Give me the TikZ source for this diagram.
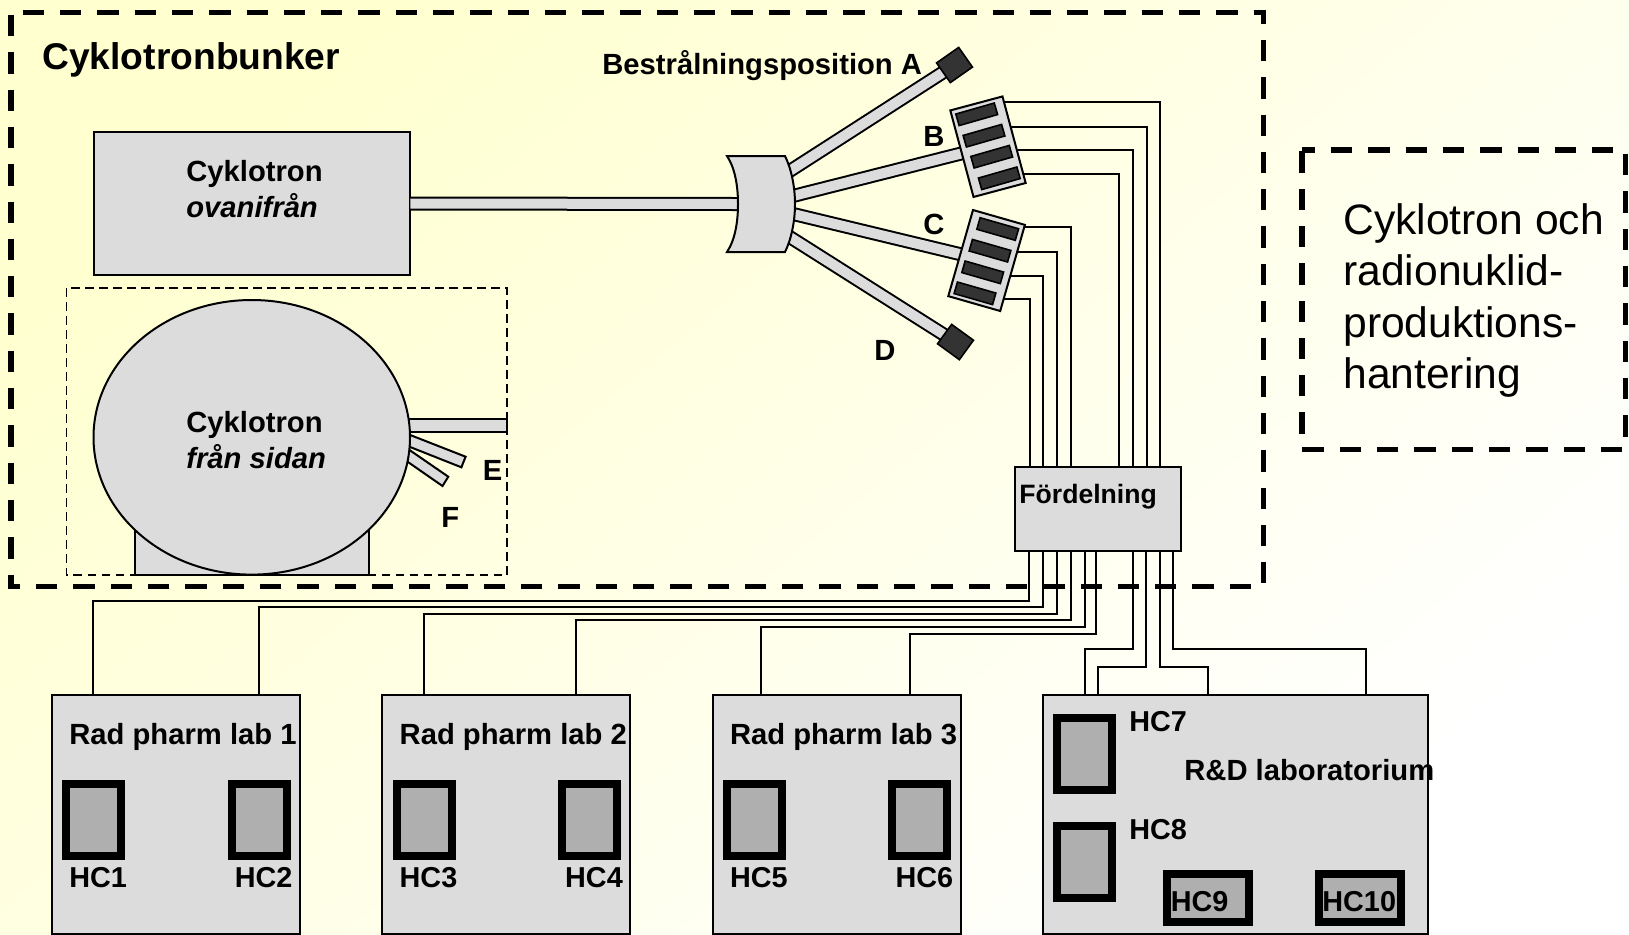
\documentclass[tikz,border=0pt]{standalone}
\usepackage{fontspec}
\setmainfont{Liberation Sans}
\usetikzlibrary{calc,shapes.geometric}

\definecolor{partgray}{HTML}{DCDCDC}
\definecolor{cellgray}{HTML}{AFAFAF}
\definecolor{darkpart}{HTML}{333333}
\definecolor{paleyellow}{HTML}{FFFFD0}

\begin{document}
\begin{tikzpicture}[x=0.5pt,y=-0.5pt]
    \tikzset{block/.style= {draw, rectangle, fill=partgray
    , line width=1pt
    , inner sep=0pt
    , outer sep=0pt
      }
    , labbox/.style= {block
    , minimum width=124pt
    , minimum height=119.5pt
    , node distance=165.15pt
      }
    , hotcell/.style= {draw, rectangle, fill=cellgray
    , line width=4pt
    , inner sep=0pt
    , minimum width=27.5pt
    , minimum height=36pt
      }
    , widecell/.style= {hotcell
    , minimum width=41pt
    , minimum height=24pt
      }
    , slot/.style= {draw, rectangle, fill=darkpart
    , line width=0.8pt
    , inner sep=0pt
    , minimum width=20pt
    , minimum height=6pt
      }
    , target/.style= {rectangle, fill=darkpart, draw
    , line width=0.8pt
    , inner sep=0pt
    , minimum width=13.5pt
    , minimum height=12pt
      }
    , tag/.style= {anchor=base west
    , inner sep=0pt
    , font=\bfseries\fontsize{14.6}{17.5}\selectfont
      }
    , celltag/.style= {tag
    , font=\bfseries\fontsize{14.4}{16}\selectfont
      }
    , beam/.style= {draw, line width=1pt, double=partgray, double distance=5pt}
    , part/.style= {draw, fill=partgray, line width=1pt}
    , wire/.style= {draw, line width=1pt}
    , bunker/.style= {draw, line width=2.65pt, dash pattern=on 10.65pt off 8pt}
    }

\shade[top color=paleyellow, bottom color=white, shading angle=40] (0,0) rectangle (1629,934);
\useasboundingbox (0,0) rectangle (1629,934);

\draw[bunker] (22.7,12.7) -- (1263.7,12.7) -- (1263.7,586.7) -- (11,586.7) -- (11,12.7);
\draw[bunker, dash phase=4.15pt] (1302,150) -- (1625.3,150) -- (1625.3,449.3) -- (1302,449.3) -- cycle;
\draw[dash pattern=on 4.3pt off 2.7pt, line width=0.7pt] (66.5,288) rectangle (507,575);

\node [tag, font=\bfseries\fontsize{18.6}{22}\selectfont] (bunkertext) at (42,69) {Cyklotronbunker};
\node [anchor=west, inner sep=0pt, align=left, font=\fontsize{21.3}{25.6}\selectfont] (roomtext) at (1343,300.5)
  {Cyklotron och\\radionuklid-\\produktions-\\hantering};

\coordinate (hubA) at (785,174);
\coordinate (hubB) at (785,198);
\coordinate (hubC) at (785,212);
\coordinate (hubD) at (785,234);
\coordinate (splitter) at (740,204);
\coordinate (endA) at (954.5,65);
\coordinate (endB) at (988,146.7);
\coordinate (endC) at (986.6,260.5);
\coordinate (endD) at (955.5,342);

\node [block, minimum width=158.3pt, minimum height=71.5pt] (topview) at (252,203.5) {};
\node [tag, align=left, anchor=west] (toptext) at (186,189) {Cyklotron\\[0.5pt]\itshape ovanifrån};

\draw[beam] (topview.east) -- (splitter);
\draw[beam] (hubA) -- (endA);
\draw[beam] (hubB) -- (endB);
\draw[beam] (hubC) -- (endC);
\draw[beam] (hubD) -- (endD);

\draw[part] (727,156) -- (785,156) .. controls (791,168) and (795,186) .. (795,204)
  .. controls (795,222) and (791,240) .. (785,252) -- (727,252)
  .. controls (735,240) and (738,222) .. (738,204) .. controls (738,186) and (735,168) .. (727,156) -- cycle;

\node [target, rotate=35] (posA) at (endA) {};
\node [target, rotate=-36] (posD) at (endD) {};
\node [block, rotate=15, minimum width=27pt, minimum height=44.8pt] (blockB) at (endB) {};
\node [block, rotate=-16, minimum width=27pt, minimum height=44.8pt] (blockC) at (endC) {};

\node [slot, rotate=16] (slotB1) at (976.7,114.3) {};
\node [slot, rotate=16] (slotB2) at (984,135.7) {};
\node [slot, rotate=16] (slotB3) at (991.7,156.7) {};
\node [slot, rotate=16] (slotB4) at (999.3,178.3) {};
\node [slot, rotate=-16] (slotC1) at (997.7,229) {};
\node [slot, rotate=-16] (slotC2) at (990,250.7) {};
\node [slot, rotate=-16] (slotC3) at (982.7,272.3) {};
\node [slot, rotate=-16] (slotC4) at (975,293.3) {};

\node [tag] (postextA) at (602,74) {Bestrålningsposition A};
\node [tag] (postextB) at (923,146) {B};
\node [tag] (postextC) at (923,234) {C};
\node [tag] (postextD) at (874,360.5) {D};

\node [block, minimum width=82.7pt, minimum height=41.85pt] (fordelning) at (1098,509.2) {};
\node [tag, font=\bfseries\fontsize{13.3}{16}\selectfont] (fordelningtext) at (1019,503.5) {Fördelning};

\coordinate (inC4) at (1029.7,467.3);
\coordinate (inC3) at (1043.3,467.3);
\coordinate (inC2) at (1057.3,467.3);
\coordinate (inC1) at (1070.7,467.3);
\coordinate (inB4) at (1119,467.3);
\coordinate (inB3) at (1132.7,467.3);
\coordinate (inB2) at (1146.7,467.3);
\coordinate (inB1) at (1160.3,467.3);

\draw[wire] ($(blockB.north east)!.06!(blockB.south east)$) -| (inB1);
\draw[wire] ($(blockB.north east)!.35!(blockB.south east)$) -| (inB2);
\draw[wire] ($(blockB.north east)!.62!(blockB.south east)$) -| (inB3);
\draw[wire] ($(blockB.north east)!.90!(blockB.south east)$) -| (inB4);
\draw[wire] ($(blockC.north east)!.03!(blockC.south east)$) -| (inC1);
\draw[wire] ($(blockC.north east)!.31!(blockC.south east)$) -| (inC2);
\draw[wire] ($(blockC.north east)!.59!(blockC.south east)$) -| (inC3);
\draw[wire] ($(blockC.north east)!.86!(blockC.south east)$) -| (inC4);

\draw[part] (134.6,520) -- (369,520) -- (369,574.7) -- (134.6,574.7) -- cycle;
\draw[part] (380,419) rectangle (506.5,431.5);
\draw[part] (400,431) -- (465.6,456.7) -- (461.4,467.3) -- (400,443) -- cycle;
\draw[part] (395,440) -- (448.3,476.7) -- (442.5,486) -- (395,453) -- cycle;
\node [block, ellipse, minimum width=158.25pt, minimum height=137.3pt] (sideview) at (251.75,437.3) {};
\node [tag, align=left, anchor=west] (sidetext) at (186,440.5) {Cyklotron\\[0.5pt]\itshape från sidan};
\node [tag] (sidetextE) at (482.5,480.5) {E};
\node [tag] (sidetextF) at (441,527.5) {F};

\node [labbox] (lab1) at (176,814) {};
\node [labbox, right of=lab1] (lab2) {};
\node [labbox, right of=lab2] (lab3) {};
\node [block, minimum width=192.5pt, minimum height=119.5pt] (lab4) at (1235.8,814) {};

\node [tag] (labtext1) at ($(lab1.north west)+(17,49.5)$) {Rad pharm lab 1};
\node [tag] (labtext2) at ($(lab2.north west)+(17,49.5)$) {Rad pharm lab 2};
\node [tag] (labtext3) at ($(lab3.north west)+(17,49.5)$) {Rad pharm lab 3};
\node [tag] (labtext4) at (1184,780) {R\&D laboratorium};

\node [hotcell] (hc1) at ($(lab1.north west)+(41.8,125.7)$) {};
\node [hotcell] (hc2) at ($(lab1.north west)+(207,125.7)$) {};
\node [hotcell] (hc3) at ($(lab2.north west)+(41.8,125.7)$) {};
\node [hotcell] (hc4) at ($(lab2.north west)+(207,125.7)$) {};
\node [hotcell] (hc5) at ($(lab3.north west)+(41.8,125.7)$) {};
\node [hotcell] (hc6) at ($(lab3.north west)+(207,125.7)$) {};
\node [hotcell] (hc7) at (1084.3,754.3) {};
\node [hotcell] (hc8) at (1084.3,862) {};
\node [widecell] (hc9) at (1208.3,898) {};
\node [widecell] (hc10) at (1359.7,898) {};

\node [celltag] (hctext1) at ($(lab1.north west)+(17,193)$) {HC1};
\node [celltag] (hctext2) at ($(lab1.north west)+(182.5,193)$) {HC2};
\node [celltag] (hctext3) at ($(lab2.north west)+(17,193)$) {HC3};
\node [celltag] (hctext4) at ($(lab2.north west)+(182.5,193)$) {HC4};
\node [celltag] (hctext5) at ($(lab3.north west)+(17,193)$) {HC5};
\node [celltag] (hctext6) at ($(lab3.north west)+(182.5,193)$) {HC6};
\node [celltag] (hctext7) at (1129,731.7) {HC7};
\node [celltag] (hctext8) at (1129,839.3) {HC8};
\node [celltag] (hctext9) at (1170.5,911.7) {HC9};
\node [celltag] (hctext10) at (1322,911.7) {HC10};

\coordinate (out1) at (1029.3,551);
\coordinate (out2) at (1043.3,551);
\coordinate (out3) at (1057,551);
\coordinate (out4) at (1070.7,551);
\coordinate (out5) at (1084.7,551);
\coordinate (out6) at (1096,551);
\coordinate (out7) at (1133,551);
\coordinate (out8) at (1146.3,551);
\coordinate (out9) at (1160.3,551);
\coordinate (out10) at (1173.3,551);

\coordinate (drop1) at (93.3,694.3);
\coordinate (drop2) at (258.5,694.3);
\coordinate (drop3) at (424,694.3);
\coordinate (drop4) at (575.6,694.3);
\coordinate (drop5) at (760.5,694.3);
\coordinate (drop6) at (910,694.3);
\coordinate (drop7) at (1084.7,694.3);
\coordinate (drop8) at (1098,694.3);
\coordinate (drop9) at (1208.3,694.3);
\coordinate (drop10) at (1366,694.3);

\path[wire] (out1) -- ++(0,50) -| (drop1);
\path[wire] (out2) -- ++(0,56.3) -| (drop2);
\path[wire] (out3) -- ++(0,62.5) -| (drop3);
\path[wire] (out4) -- ++(0,69) -| (drop4);
\path[wire] (out5) -- ++(0,75.7) -| (drop5);
\path[wire] (out6) -- ++(0,82.5) -| (drop6);
\path[wire] (out7) -- ++(0,97.7) -| (drop7);
\path[wire] (out8) -- ++(0,115.7) -| (drop8);
\path[wire] (out9) -- ++(0,115.7) -| (drop9);
\path[wire] (out10) -- ++(0,97.7) -| (drop10);
\end{tikzpicture}
\end{document}
